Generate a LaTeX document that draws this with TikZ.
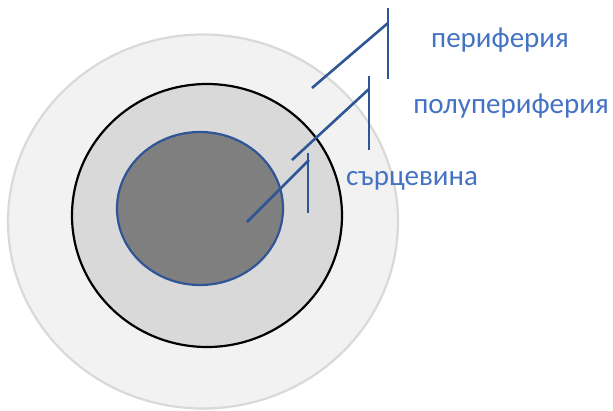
\documentclass[tikz,border=0pt]{standalone}
\usepackage{fontspec}
\setmainfont{Carlito}
\usetikzlibrary{positioning}

\definecolor{outerfill}{HTML}{F2F2F2}
\definecolor{outerline}{HTML}{D9D9D9}
\definecolor{midfill}{HTML}{D9D9D9}
\definecolor{corefill}{HTML}{7F7F7F}
\definecolor{leadblue}{HTML}{2F5597}
\definecolor{labelblue}{HTML}{4472C4}

\begin{document}
\begin{tikzpicture}[x=1pt, y=-1pt]
				\tikzstyle{Ring}	= [line width=2.2pt]
				\tikzstyle{Lead}	= [line width=2.6pt, leadblue]
				\tikzstyle{Label}	= [text=labelblue, inner sep=0pt, anchor=base, font=\fontsize{29}{31}\selectfont]
				
				\useasboundingbox (0,0) rectangle (613,410);
				
				\draw [Ring, fill=outerfill, draw=outerline] (203,221.5) ellipse [x radius=195, y radius=187];
				\draw [Ring, fill=midfill, draw=black] (207,215.5) ellipse [x radius=135, y radius=131.5];
				\draw [Ring, fill=corefill, draw=leadblue] (200,208.5) ellipse [x radius=83, y radius=76.5];
				
				\node (per) at (500,47) [Label] {периферия};
				
				\node (semi) at (511,113) [Label] {полупериферия};
				
				\node (core) at (412,185) [Label] {сърцевина};
				
				\coordinate (perA) at (312,88);
				\coordinate (perB) at (388,23);
				\coordinate (perT) at (388,8);
				\coordinate (perD) at (388,79);
				
				\coordinate (semiA) at (292,160);
				\coordinate (semiB) at (369,89);
				\coordinate (semiT) at (369,76);
				\coordinate (semiD) at (369,150);
				
				\coordinate (coreA) at (247,222);
				\coordinate (coreB) at (309,160);
				\coordinate (coreT) at (308,153);
				\coordinate (coreD) at (308,213);
				
				\draw [Lead] (perA) -- (perB);
				\draw [Lead] (perT) -- (perD);
				\draw [Lead] (semiA) -- (semiB);
				\draw [Lead] (semiT) -- (semiD);
				\draw [Lead] (coreA) -- (coreB);
				\draw [Lead] (coreT) -- (coreD);
			\end{tikzpicture}
\end{document}
